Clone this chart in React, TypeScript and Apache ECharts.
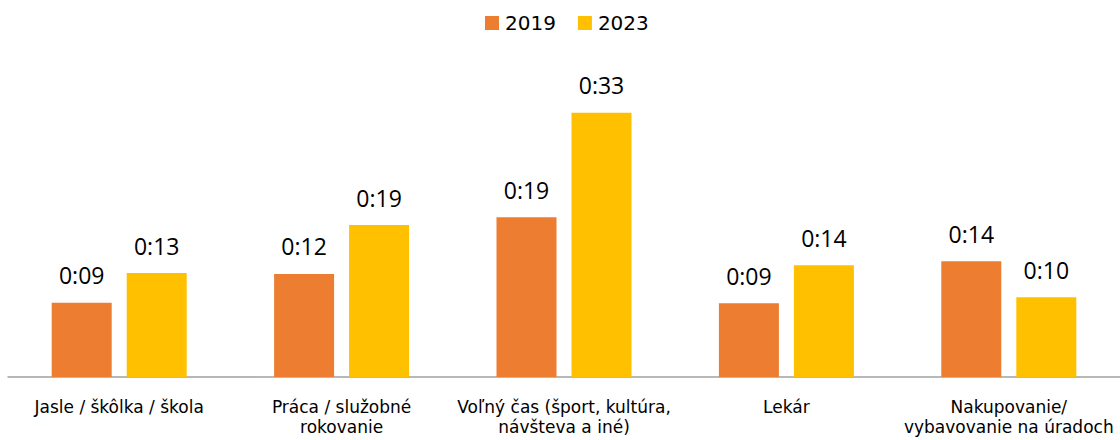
import React, { useEffect, useRef } from "react";
import * as echarts from "echarts";

const categories = [
  "Jasle / škôlka / škola",
  "Práca / služobné\nrokovanie",
  "Voľný čas (šport, kultúra,\nnávšteva a iné)",
  "Lekár",
  "Nakupovanie/\nvybavovanie na úradoch",
];
// minutes
const values2019 = [9.29, 12.88, 19.96, 9.21, 14.46];
const values2023 = [13.0, 19.0, 33.04, 13.96, 9.96];
// data labels as shown on the chart (h:mm)
const labels2019 = ["0:09", "0:12", "0:19", "0:09", "0:14"];
const labels2023 = ["0:13", "0:19", "0:33", "0:14", "0:10"];

export default function App() {
  const ref = useRef<HTMLDivElement>(null);
  useEffect(() => {
    if (!ref.current) return;
    const chart = echarts.init(ref.current, null, { renderer: "svg" });
    const labelStyle = {
      show: true,
      position: "top",
      distance: 16,
      fontFamily: "Open Sans",
      fontSize: 23,
      lineHeight: 23,
      color: "#000",
    };
    chart.setOption({
      animation: false,
      legend: {
        left: 480,
        top: 8,
        itemWidth: 14,
        itemHeight: 14,
        itemGap: 22,
        icon: "rect",
        textStyle: {
          fontFamily: "DejaVu Sans",
          fontSize: 20,
          color: "#000",
          padding: [0, 0, 0, 1],
        },
        data: ["2019", "2023"],
      },
      grid: { left: 8, top: 57, width: 1115, height: 320, containLabel: false },
      xAxis: {
        type: "category",
        data: categories,
        axisLine: { show: true, lineStyle: { color: "#a0a0a0", width: 1.5 } },
        axisTick: { show: false },
        axisLabel: {
          interval: 0,
          margin: 20,
          fontFamily: "DejaVu Sans",
          fontSize: 17,
          lineHeight: 20,
          color: "#000",
        },
      },
      yAxis: { type: "value", min: 0, max: 40, show: false },
      series: [
        {
          name: "2019",
          type: "bar",
          data: values2019,
          barWidth: 60,
          barGap: "25%",
          itemStyle: { color: "#ED7D31" },
          label: { ...labelStyle, formatter: (p: any) => labels2019[p.dataIndex] },
        },
        {
          name: "2023",
          type: "bar",
          data: values2023,
          barWidth: 60,
          barGap: "25%",
          itemStyle: { color: "#FFC000" },
          label: { ...labelStyle, formatter: (p: any) => labels2023[p.dataIndex] },
        },
      ],
    });
    return () => chart.dispose();
  }, []);
  return (
    <div
      ref={ref}
      style={{ position: "absolute", left: 0, top: 0, width: 1120, height: 440, background: "#fff" }}
    />
  );
}
